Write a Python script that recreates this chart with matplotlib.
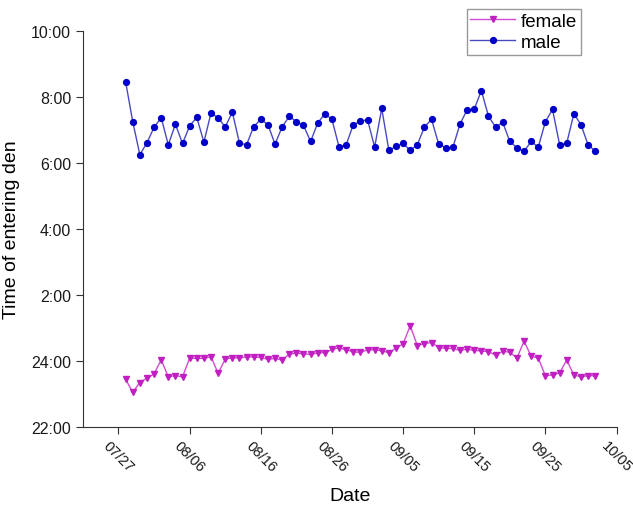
import matplotlib
matplotlib.use("Agg")
import matplotlib.pyplot as plt
import matplotlib.dates as mdates
import matplotlib.transforms as mtransforms
import pandas as pd

plt.rcParams['font.family'] = ['Liberation Sans', 'DejaVu Sans']

# one observation per day, 07/28 .. 10/02
dates = pd.date_range('2019-07-28', '2019-10-02', freq='D')

# hours after midnight of the previous day (24 = 24:00, 26 = 2:00, ...)
female = [23.45, 23.05, 23.35, 23.48, 23.61, 24.04, 23.52, 23.56, 23.52, 24.09,
          24.08, 24.08, 24.13, 23.63, 24.06, 24.10, 24.09, 24.13, 24.12, 24.11,
          24.05, 24.08, 24.03, 24.21, 24.24, 24.22, 24.20, 24.25, 24.25, 24.35,
          24.40, 24.34, 24.28, 24.26, 24.34, 24.34, 24.31, 24.25, 24.39, 24.52,
          25.07, 24.47, 24.53, 24.56, 24.41, 24.38, 24.38, 24.32, 24.36, 24.32,
          24.31, 24.28, 24.18, 24.29, 24.27, 24.09, 24.60, 24.15, 24.09, 23.55,
          23.58, 23.64, 24.03, 23.58, 23.52, 23.56, 23.55]

male = [32.46, 31.25, 30.25, 30.61, 31.08, 31.37, 30.55, 31.17, 30.59, 31.12,
        31.38, 30.63, 31.51, 31.37, 31.09, 31.54, 30.60, 30.55, 31.10, 31.32,
        31.16, 30.57, 31.09, 31.41, 31.25, 31.14, 30.65, 31.21, 31.49, 31.32,
        30.48, 30.55, 31.16, 31.26, 31.31, 30.48, 31.65, 30.38, 30.50, 30.59,
        30.38, 30.55, 31.09, 31.32, 30.57, 30.46, 30.47, 31.18, 31.61, 31.63,
        32.19, 31.42, 31.08, 31.23, 30.65, 30.46, 30.35, 30.65, 30.48, 31.25,
        31.62, 30.55, 30.60, 31.49, 31.16, 30.55, 30.36]

y_ticks = [22, 24, 26, 28, 30, 32, 34]
y_labels = ['22:00', '24:00', '2:00', '4:00', '6:00', '8:00', '10:00']

x_ticks = pd.date_range('2019-07-27', '2019-10-05', freq='10D')

fig = plt.figure(figsize=(6.33, 5.06), dpi=100)
ax = fig.add_axes([0.131, 0.154, 0.843, 0.783])

ax.plot(dates, female, color='#d24cd2', lw=1, marker='v', ms=5,
        mfc='#c21fc2', mec='#c21fc2', label='female')
ax.plot(dates, male, color='#4a4ac0', lw=1, marker='o', ms=4.2,
        mfc='#0000c8', mec='#0000c8', label='male')

ax.set_ylim(22, 34)
ax.set_yticks(y_ticks)
ax.set_yticklabels(y_labels, fontsize=11.5)
ax.set_xlim(pd.Timestamp('2019-07-22'), pd.Timestamp('2019-10-05'))
ax.set_xticks(x_ticks)
ax.xaxis.set_major_formatter(mdates.DateFormatter('%m/%d'))
shift = mtransforms.ScaledTranslation(-3 / 100, 0, fig.dpi_scale_trans)
for lab in ax.get_xticklabels():
    lab.set_rotation(-45)
    lab.set_ha('center')
    lab.set_fontsize(10.5)
    lab.set_transform(lab.get_transform() + shift)

ax.spines['top'].set_visible(False)
ax.spines['right'].set_visible(False)
for s in ['left', 'bottom']:
    ax.spines[s].set_color('#333333')
ax.tick_params(direction='out', length=5, color='#333333', labelcolor='#1a1a1a')
ax.tick_params(axis='x', pad=3)

ax.set_ylabel('Time of entering den', fontsize=14, labelpad=8)
ax.set_xlabel('Date', fontsize=14, labelpad=9)

ax.legend(loc='upper right', bbox_to_anchor=(0.918, 0.98),
          bbox_transform=fig.transFigure, borderaxespad=0, fontsize=13.5,
          fancybox=False, edgecolor='#999999', framealpha=1,
          handlelength=2.4, handletextpad=0.3, borderpad=0.2, labelspacing=0.2)

fig.savefig('out.png', dpi=100)
